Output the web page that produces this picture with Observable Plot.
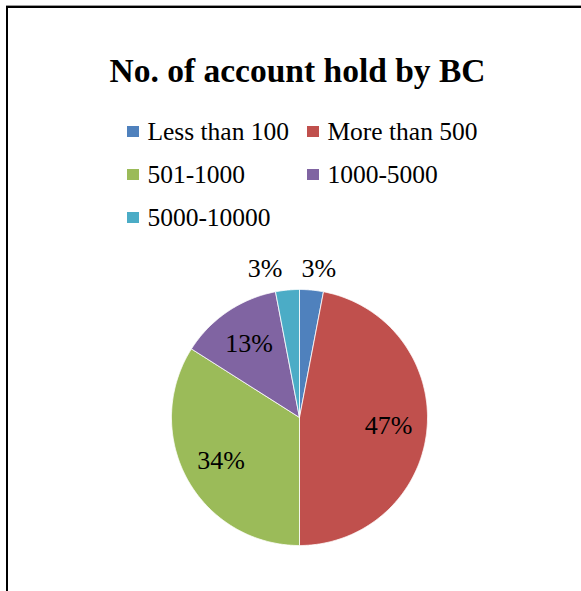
<!DOCTYPE html>
<html>
<head>
<meta charset="utf-8">
<script src="https://cdn.jsdelivr.net/npm/d3@7"></script>
<script src="https://cdn.jsdelivr.net/npm/@observablehq/plot@0.6"></script>
<style>
  html, body { margin: 0; padding: 0; background: #fff; width: 581px; height: 591px; overflow: hidden; }
  body { position: relative; font-family: "Liberation Serif", "Times New Roman", serif; }
  #frame { position: absolute; left: 6px; top: 6px; width: 640px; height: 640px;
           border-left: 2px solid #000; border-top: 2px solid #000; box-shadow: 0 -1px 0 #9a9a9a; box-sizing: border-box; }
  #title { position: absolute; left: 0; top: 54.3px; width: 595px; text-align: center;
           font-size: 33.5px; font-weight: bold; line-height: 33.5px; color: #000; }
  #legend { position: absolute; left: 127px; top: 109.9px; display: grid;
            grid-template-columns: 180px 180px; grid-auto-rows: 43px; }
  .item { display: flex; align-items: center; font-size: 25.5px; line-height: 43px; color: #000; white-space: nowrap; }
  .sw { width: 11.7px; height: 11.7px; margin-right: 8.7px; flex: none; }
  #pie { position: absolute; left: 139px; top: 257px; }
</style>
</head>
<body>
<div id="frame"></div>
<div id="title"></div>
<div id="legend"></div>
<div id="pie"></div>
<script>
const titleText = "No. of account hold by BC";
const categories = ["Less than 100", "More than 500", "501-1000", "1000-5000", "5000-10000"];
const values = [3, 47, 34, 13, 3];
const labels = ["3%", "47%", "34%", "13%", "3%"];
const colors = ["#4F81BD", "#C0504D", "#9BBB59", "#8064A2", "#4BACC6"];

document.getElementById("title").textContent = titleText;

const legend = document.getElementById("legend");
categories.forEach((c, i) => {
  const it = document.createElement("div");
  it.className = "item";
  const sw = document.createElement("span");
  sw.className = "sw";
  sw.style.background = colors[i];
  const tx = document.createElement("span");
  tx.textContent = c;
  it.appendChild(sw);
  it.appendChild(tx);
  legend.appendChild(it);
});

const arcs = d3.pie().sort(null).value(d => d.value)(
  categories.map((c, i) => ({key: c, value: values[i], label: labels[i]}))
);

// slice outlines as polygons in unit-circle coordinates
const pts = [];
arcs.forEach(a => {
  const k = a.data.key;
  pts.push({key: k, x: 0, y: 0});
  const n = Math.max(2, Math.ceil((a.endAngle - a.startAngle) / (Math.PI / 360)));
  for (let j = 0; j <= n; j++) {
    const t = a.startAngle + (a.endAngle - a.startAngle) * j / n;
    pts.push({key: k, x: Math.sin(t), y: Math.cos(t)});
  }
  pts.push({key: k, x: 0, y: 0});
});

const lab = arcs.map(a => {
  const m = (a.startAngle + a.endAngle) / 2;
  const outside = a.data.value < 5;
  const r = outside ? 1.165 : 0.7;
  return {text: a.data.label, x: Math.sin(m) * r, y: Math.cos(m) * r, outside, right: Math.sin(m) > 0};
});

const font = {fontSize: 26, fontFamily: "Liberation Serif", fill: "#000"};
const chart = Plot.plot({
  width: 320,
  height: 320,
  margin: 0,
  x: {domain: [-1.25, 1.25], axis: null},
  y: {domain: [-1.25, 1.25], axis: null},
  color: {domain: categories, range: colors},
  style: {background: "transparent", overflow: "visible"},
  marks: [
    Plot.line(pts, {x: "x", y: "y", z: "key", fill: "key", stroke: "white", strokeWidth: 0.8, strokeLinejoin: "round"}),
    Plot.text(lab.filter(d => !d.outside), {x: "x", y: "y", text: "text", ...font}),
    Plot.text(lab.filter(d => d.outside && d.right), {x: "x", y: "y", text: "text", textAnchor: "start", dx: -12, ...font}),
    Plot.text(lab.filter(d => d.outside && !d.right), {x: "x", y: "y", text: "text", textAnchor: "end", dx: -3, ...font})
  ]
});
document.getElementById("pie").appendChild(chart);
</script>
</body>
</html>
